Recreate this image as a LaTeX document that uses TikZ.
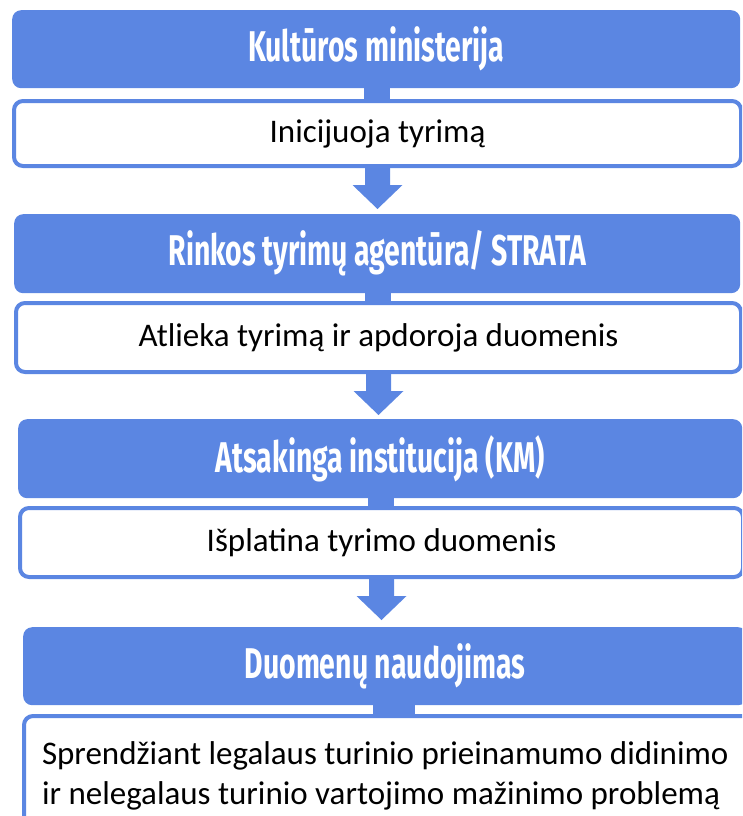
\documentclass[tikz,border=0pt]{standalone}
\usepackage{fontspec}
\setmainfont{Carlito}
\newfontfamily\hdfont[FakeStretch=0.66]{Fira Sans}
\usetikzlibrary{calc}
\definecolor{kblue}{RGB}{91,134,226}
\begin{document}
\begin{tikzpicture}[x=1pt,y=-1pt,
  hbox/.style={fill=kblue, rounded corners=9pt, anchor=north west, inner sep=0pt,
    text=white, font=\hdfont\bfseries\fontsize{43}{48}\selectfont},
  wbox/.style={draw=kblue, line width=4pt, fill=white, rounded corners=9pt,
    anchor=north west, inner sep=0pt, font=\fontsize{33}{40}\selectfont},
  stem/.style={fill=kblue},
  flow/.style={fill=kblue}]
\useasboundingbox (0,0) rectangle (742,816);
\clip (0,0) rectangle (742,816);

\node[hbox, minimum width=728pt, minimum height=78pt] (b1) at (12,10) {Kultūros ministerija};
\node[wbox, minimum width=727pt, minimum height=65pt] (w1) at (12,99) {Inicijuoja tyrimą};

\node[hbox, minimum width=726pt, minimum height=79pt] (b2) at (14,214) {Rinkos tyrimų agentūra/ STRATA};
\node[wbox, minimum width=725pt, minimum height=69pt] (w2) at (14,301) {Atlieka tyrimą ir apdoroja duomenis};

\node[hbox, minimum width=724pt, minimum height=79pt] (b3) at (18,419) {Atsakinga institucija (KM)};
\node[wbox, minimum width=723pt, minimum height=69pt] (w3) at (18,506) {Išplatina tyrimo duomenis};

\node[hbox, minimum width=724pt, minimum height=78pt] (b4) at (23,627) {Duomenų naudojimas};
\node[wbox, minimum height=120pt, inner xsep=18pt, text width=720pt, align=flush left] (w4) at (22,714)
  {Sprendžiant legalaus turinio prieinamumo didinimo\\ir nelegalaus turinio vartojimo mažinimo problemą};

% short stems from header to step box
\foreach \b/\w in {b1/w1,b2/w2,b3/w3,b4/w4}{
  \fill[stem] ($(\b.south)+(-12.5,-1)$) rectangle ($(\w.north)+(12.5,1)$);
}
% block arrows between steps
\foreach \w/\b in {w1/b2,w2/b3,w3/b4}{
  \fill[flow] ($(\w.south)+(-12.5,-1)$) -- ++(0,18) -- ++(-12.5,0) -- ++(25,24)
     -- ++(25,-24) -- ++(-12.5,0) -- ++(0,-18) -- cycle;
}
\end{tikzpicture}
\end{document}
